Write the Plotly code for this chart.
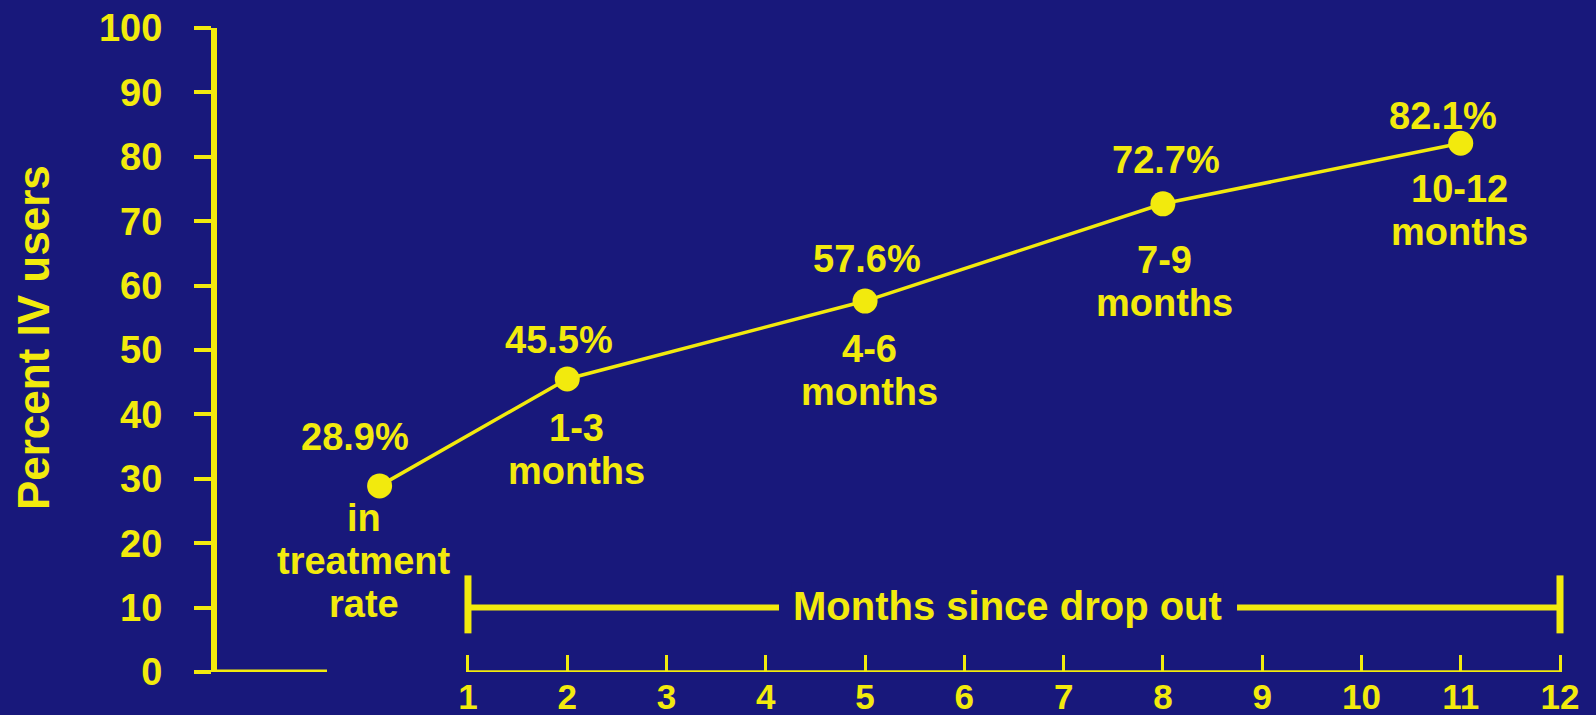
import plotly.graph_objects as go

# --- data -------------------------------------------------------------
categories = ["in\ntreatment\nrate", "1-3\nmonths", "4-6\nmonths", "7-9\nmonths", "10-12\nmonths"]
x_month = [0.11, 2, 5, 8, 11]          # in-treatment point sits left of the month scale
pct_iv = [28.9, 45.5, 57.6, 72.7, 82.1]
month_ticks = list(range(1, 13))
y_ticks = list(range(0, 101, 10))

# --- style ------------------------------------------------------------
BG = "#18187b"
YEL = "#f2ea0d"
FONT = "Liberation Sans, Arial, sans-serif"
TXT = 38

# (xshift, yshift) for value labels and first line of category labels
value_off = [(-25, 49), (-8, 39), (2, 42), (3, 44), (-18, 27)]
cat_off = [(-16, -32), (9, -49), (4, -48), (2, -56), (-1, -46)]
LINE_GAP = 43

X_RANGE = [-1.528, 12.2015]
Y_RANGE = [0, 100]

fig = go.Figure()

# month scale baseline with its own end points
fig.add_trace(go.Scatter(
    x=[month_ticks[0], month_ticks[-1]], y=[0, 0], mode="lines",
    line=dict(color=YEL, width=3.5), cliponaxis=False, hoverinfo="skip", showlegend=False))

# short baseline stub next to the y axis
fig.add_trace(go.Scatter(
    x=[X_RANGE[0] - 0.04, -0.42], y=[0, 0], mode="lines",
    line=dict(color=YEL, width=5), cliponaxis=False, hoverinfo="skip", showlegend=False))

# "Months since drop out" bracket
bracket_y = 10
for seg in ([month_ticks[0], 4.133], [8.747, month_ticks[-1]]):
    fig.add_trace(go.Scatter(
        x=seg, y=[bracket_y, bracket_y], mode="lines",
        line=dict(color=YEL, width=6), cliponaxis=False, hoverinfo="skip", showlegend=False))
for xe in (month_ticks[0], month_ticks[-1]):
    fig.add_trace(go.Scatter(
        x=[xe, xe], y=[bracket_y - 4.0, bracket_y + 5.0], mode="lines",
        line=dict(color=YEL, width=7), cliponaxis=False, hoverinfo="skip", showlegend=False))

# the series
fig.add_trace(go.Scatter(
    x=x_month, y=pct_iv, mode="lines+markers",
    line=dict(color=YEL, width=3.5),
    marker=dict(color=YEL, size=25, line=dict(width=0)),
    cliponaxis=False, showlegend=False))

annotations = []
for xv, yv, cat, (vx, vy), (cx, cy) in zip(x_month, pct_iv, categories, value_off, cat_off):
    annotations.append(dict(
        x=xv, y=yv, xref="x", yref="y", text=f"{yv}%", showarrow=False,
        xshift=vx, yshift=vy, xanchor="center", yanchor="middle",
        font=dict(family=FONT, size=TXT, color=YEL, weight="bold")))
    for i, line in enumerate(cat.split("\n")):
        annotations.append(dict(
            x=xv, y=yv, xref="x", yref="y", text=line, showarrow=False,
            xshift=cx, yshift=cy - i * LINE_GAP, xanchor="center", yanchor="middle",
            font=dict(family=FONT, size=TXT, color=YEL, weight="bold")))

annotations.append(dict(
    x=6.43, y=bracket_y, xref="x", yref="y", text="Months since drop out",
    showarrow=False, yshift=2, xanchor="center", yanchor="middle", bgcolor=BG,
    font=dict(family=FONT, size=40, color=YEL, weight="bold")))

annotations.append(dict(
    x=-0.135, y=0.52, xref="paper", yref="paper", text="Percent IV users",
    showarrow=False, textangle=-90, xanchor="center", yanchor="middle",
    font=dict(family=FONT, size=44, color=YEL, weight="bold")))

fig.update_layout(
    width=1596, height=715,
    margin=dict(l=217, r=16, t=28, b=43, autoexpand=False),
    paper_bgcolor=BG, plot_bgcolor=BG,
    annotations=annotations,
    xaxis=dict(
        range=X_RANGE, showgrid=False, zeroline=False, showline=False, automargin=False,
        tickmode="array", tickvals=month_ticks, ticktext=[str(m) for m in month_ticks],
        ticks="inside", ticklen=17, tickwidth=3, tickcolor=YEL,
        ticklabelstandoff=1,
        tickfont=dict(family=FONT, size=35, color=YEL, weight="bold")),
    yaxis=dict(
        range=Y_RANGE, showgrid=False, zeroline=False, automargin=False,
        showline=True, linecolor=YEL, linewidth=6,
        tickmode="array", tickvals=y_ticks,
        ticks="outside", ticklen=17, tickwidth=4, tickcolor=YEL,
        ticklabelstandoff=24,
        tickfont=dict(family=FONT, size=TXT, color=YEL, weight="bold")),
)

fig.write_html("out.html")
